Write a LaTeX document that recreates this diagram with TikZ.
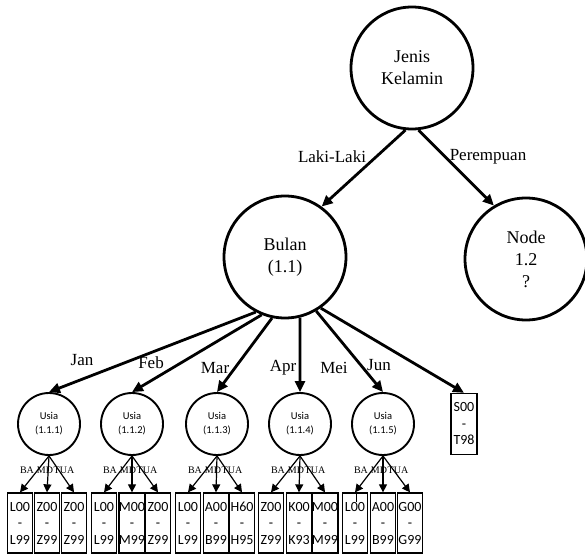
\documentclass[tikz,border=0pt]{standalone}
\usepackage{fontspec}
\setmainfont{Liberation Serif}
\newfontfamily\calibri{Carlito}
\usetikzlibrary{arrows.meta}
\begin{document}
\begin{tikzpicture}[x=1pt,y=-1pt,
  bigcirc/.style={circle, draw, line width=2.8pt, minimum size=122pt, inner sep=0pt,
    align=center, font=\fontsize{18}{22}\selectfont},
  usia/.style={circle, draw, line width=1.9pt, minimum size=62pt, inner sep=0pt,
    align=center, font=\calibri\fontsize{10.5}{14}\selectfont},
  leaf/.style={draw, line width=1.3pt, minimum width=25pt, minimum height=60pt,
    inner sep=0pt, align=center, font=\calibri\fontsize{14}{16.5}\selectfont},
  bigarrow/.style={line width=2.8pt, -{Triangle[length=11pt,width=10pt]}},
  smallarrow/.style={line width=1.2pt, -{Triangle[length=8pt,width=8pt]}},
  edgelabel/.style={font=\fontsize{17}{20}\selectfont, inner sep=0pt},
  branchlabel/.style={font=\fontsize{10}{11}\selectfont, inner sep=0pt}
]
\useasboundingbox (0,0) rectangle (585,556);

% upper levels
\node[bigcirc] (jk) at (412,68) {Jenis\\Kelamin};
\node[bigcirc] (bulan) at (285,257) {Bulan\\(1.1)};
\node[bigcirc] (n12) at (526,259) {Node\\1.2\\?};

\draw[bigarrow] (jk.-96) -- (bulan.54);
\draw[bigarrow] (jk.-84) -- (n12.121);
\node[edgelabel] (lk) at (332,157) {Laki-Laki};
\node[edgelabel] (pr) at (488,157) {Perempuan};

% month level
\node[usia] (u1) at (49,424) {Usia\\(1.1.1)};
\node[usia] (u2) at (132,424) {Usia\\(1.1.2)};
\node[usia] (u3) at (217,424) {Usia\\(1.1.3)};
\node[usia] (u4) at (300,424) {Usia\\(1.1.4)};
\node[usia] (u5) at (383,424) {Usia\\(1.1.5)};
\node[leaf, minimum width=26pt, minimum height=61pt] (s00) at (464,424) {S00\\-\\T98};

\draw[bigarrow] (bulan.-118) -- (u1.north);
\draw[bigarrow] (bulan.-112) -- (u2.north);
\draw[bigarrow] (bulan.-102) -- (u3.north);
\draw[bigarrow] (bulan.-76) -- (u4.north);
\draw[bigarrow] (bulan.-60) -- (u5.north);
\draw[bigarrow] (bulan.-55) -- (s00.north);

\node[edgelabel] (jan) at (82,360) {Jan};
\node[edgelabel] (feb) at (151,363) {Feb};
\node[edgelabel] (mar) at (215,368) {Mar};
\node[edgelabel] (apr) at (283,368) {Apr};
\node[edgelabel] (mei) at (334,368) {Mei};
\node[edgelabel] (jun) at (379,365) {Jun};

% age level: code ranges
\foreach \g/\xa/\pa/\qa/\xb/\pb/\qb/\xc/\pc/\qc in {
  1/20/L00/L99/47/Z00/Z99/74/Z00/Z99,
  2/104/L00/L99/132/M00/M99/158/Z00/Z99,
  3/188/L00/L99/216/A00/B99/242/H60/H95,
  4/271/Z00/Z99/299/K00/K93/325/M00/M99,
  5/355/L00/L99/383/A00/B99/410/G00/G99}{
  \node[leaf] (g\g-a) at (\xa,523) {\pa\\-\\\qa};
  \node[leaf] (g\g-b) at (\xb,523) {\pb\\-\\\qb};
  \node[leaf] (g\g-c) at (\xc,523) {\pc\\-\\\qc};
  \draw[smallarrow] (u\g.south) -- (g\g-a.north);
  \draw[smallarrow] (u\g.south) -- (g\g-b.north);
  \draw[smallarrow] (u\g.south) -- (g\g-c.north);
  \node[branchlabel] (ba\g) at ([shift={(-22,46)}]u\g.center) {BA};
  \node[branchlabel] (md\g) at ([shift={(-4,46)}]u\g.center) {MD};
  \node[branchlabel] (tua\g) at ([shift={(15,46)}]u\g.center) {TUA};
}
\draw[line width=1pt] ([xshift=1pt]g5-a.north) -- ++(0,10);
\end{tikzpicture}
\end{document}
